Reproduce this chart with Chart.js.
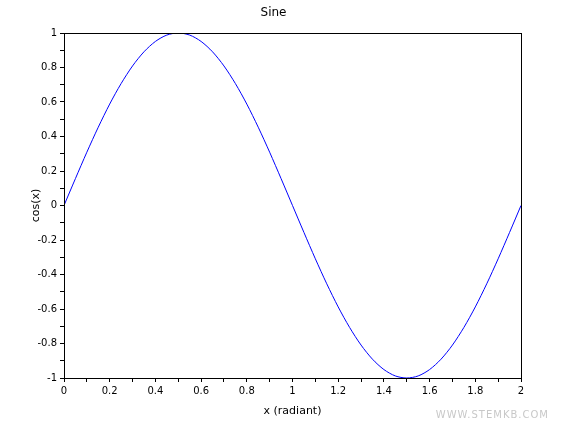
<!DOCTYPE html>
<html><head><meta charset="utf-8">
<script src="https://cdn.jsdelivr.net/npm/chart.js@4"></script>
<style>body{margin:0;background:#fff}#wrap{position:relative;width:561px;height:430px}
#wm{position:absolute;right:12px;bottom:10px;font:10px "DejaVu Sans",sans-serif;color:#c8c8c8;letter-spacing:1px}</style>
</head><body><div id="wrap"><canvas id="c" width="561" height="430"></canvas><div id="wm">WWW.STEMKB.COM</div></div>
<script>
const xs = [0,0.05,0.1,0.15,0.2,0.25,0.3,0.35,0.4,0.45,0.5,0.55,0.6,0.65,0.7,0.75,0.8,0.85,0.9,0.95,1,
  1.05,1.1,1.15,1.2,1.25,1.3,1.35,1.4,1.45,1.5,1.55,1.6,1.65,1.7,1.75,1.8,1.85,1.9,1.95,2];
const ys = [0,0.156,0.309,0.454,0.588,0.707,0.809,0.891,0.951,0.988,1,0.988,0.951,0.891,0.809,0.707,0.588,0.454,0.309,0.156,0,
  -0.156,-0.309,-0.454,-0.588,-0.707,-0.809,-0.891,-0.951,-0.988,-1,-0.988,-0.951,-0.891,-0.809,-0.707,-0.588,-0.454,-0.309,-0.156,0];

const font = {family: '"DejaVu Sans", sans-serif', size: 10};
const frame = {
  id: 'frame',
  afterDraw(chart) {
    const a = chart.chartArea, g = chart.ctx;
    g.save(); g.strokeStyle = '#000'; g.lineWidth = 1;
    g.strokeRect(a.left + 0.5, a.top + 0.5, a.right - a.left, a.bottom - a.top);
    g.restore();
  }
};
const label = v => (Math.round(v * 10) % 2 === 0) ? String(Math.round(v * 10) / 10) : '';

new Chart(document.getElementById('c'), {
  type: 'line',
  data: {datasets: [{data: xs.map((x, i) => ({x, y: ys[i]})), borderColor: '#0000ff', borderWidth: 1, pointRadius: 0, tension: 0.3}]},
  options: {
    responsive: false, animation: false,
    layout: {padding: {left: 26, right: 40, top: 0, bottom: 8}},
    plugins: {
      legend: {display: false}, tooltip: {enabled: false},
      title: {display: true, text: 'Sine', color: '#000', font: {family: font.family, size: 12, weight: 'normal'}, padding: {top: 6, bottom: 12.6}}
    },
    scales: {
      x: {
        type: 'linear', min: 0, max: 2,
        ticks: {stepSize: 0.1, color: '#000', font, autoSkip: false, maxRotation: 0, callback: label},
        grid: {drawOnChartArea: false, tickLength: 4, color: '#000'},
        border: {color: '#000'},
        title: {display: true, text: 'x (radiant)', color: '#000', font: {family: font.family, size: 11}},
        afterFit(s) { s.height = 44; }
      },
      y: {
        min: -1, max: 1,
        ticks: {stepSize: 0.1, color: '#000', font, autoSkip: false, callback: label},
        grid: {drawOnChartArea: false, tickLength: 4, color: '#000'},
        border: {color: '#000'},
        title: {display: true, text: 'cos(x)', color: '#000', font: {family: font.family, size: 11}},
        afterFit(s) { s.width = 38; }
      }
    }
  },
  plugins: [frame]
});
</script></body></html>
